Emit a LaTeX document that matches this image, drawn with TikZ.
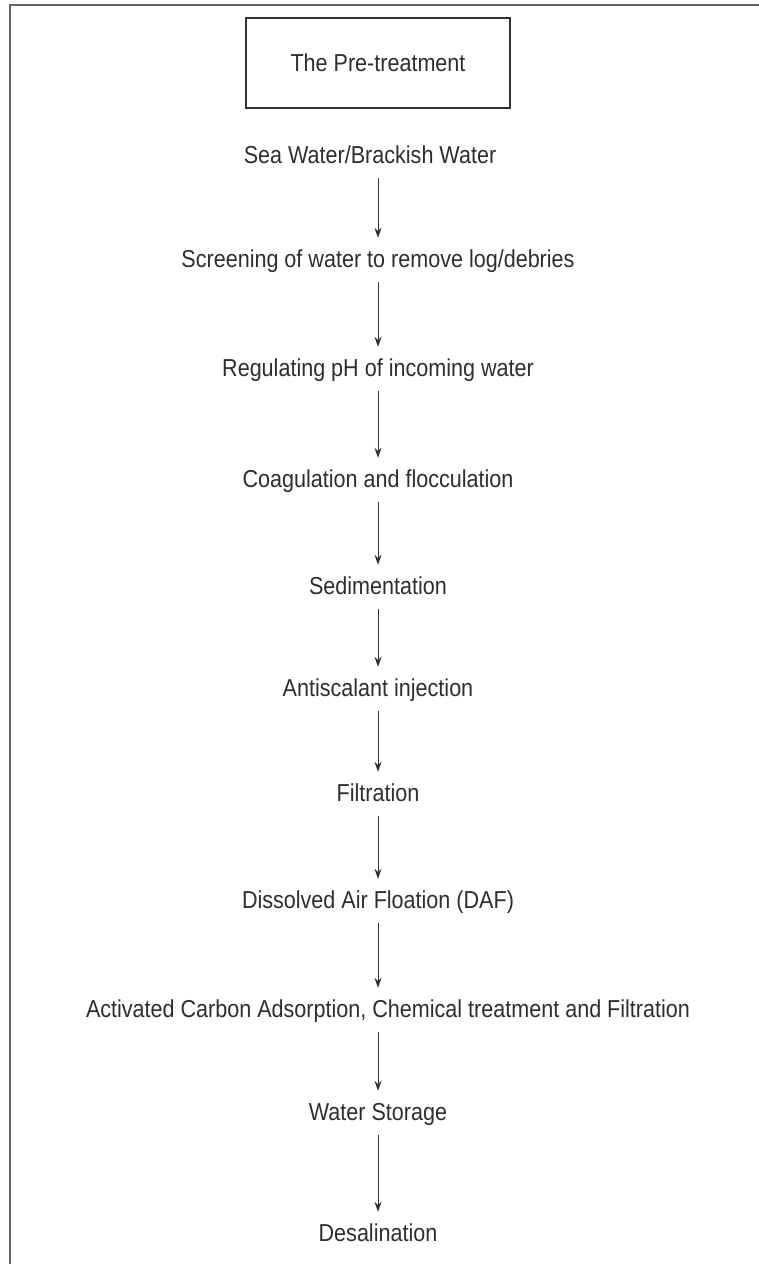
\documentclass[tikz,border=0pt]{standalone}
\usepackage{fontspec}
\setmainfont{Liberation Sans}[FakeStretch=0.88]
\usetikzlibrary{arrows.meta}
\begin{document}
\begin{tikzpicture}[x=1pt,y=-1pt,
  lbl/.style={font=\fontsize{24.5}{27}\selectfont, text=black!82, inner sep=0pt,
              text height=17pt, text depth=5pt, anchor=center},
  arr/.style={draw=black!80, line width=1pt, -{Stealth[length=10pt,width=7pt]},
              shorten <=10pt, shorten >=12pt},
  frame/.style={draw=black!60, line width=2pt},
  titlebox/.style={draw=black!80, line width=1.6pt, minimum width=264pt,
              minimum height=90pt, inner sep=0pt, text=black!82,
              font=\fontsize{24.5}{27}\selectfont}]
\useasboundingbox (0,0) rectangle (759,1264);
\draw[frame] (10,1264) -- (10,5) -- (759,5);
\node[titlebox] (title) at (378,63) {The Pre-treatment};
\node[lbl] (n1) at (370,157) {Sea Water/Brackish Water};
\node[lbl] (n2) at (378,261) {Screening of water to remove log/debries};
\node[lbl] (n3) at (378,370) {Regulating pH of incoming water};
\node[lbl] (n4) at (378,481) {Coagulation and flocculation};
\node[lbl] (n5) at (378,588) {Sedimentation};
\node[lbl] (n6) at (378,690) {Antiscalant injection};
\node[lbl] (n7) at (378,795) {Filtration};
\node[lbl] (n8) at (378,902) {Dissolved Air Floation (DAF)};
\node[lbl] (n9) at (388,1011) {Activated Carbon Adsorption, Chemical treatment and Filtration};
\node[lbl] (n10) at (378,1114) {Water Storage};
\node[lbl] (n11) at (378,1235) {Desalination};
\foreach \a/\b in {n1/n2,n2/n3,n3/n4,n4/n5,n5/n6,n6/n7,n7/n8,n8/n9,n9/n10,n10/n11}
  \draw[arr] (\a.south -| 378,0) -- (\b.north -| 378,0);
\end{tikzpicture}
\end{document}
